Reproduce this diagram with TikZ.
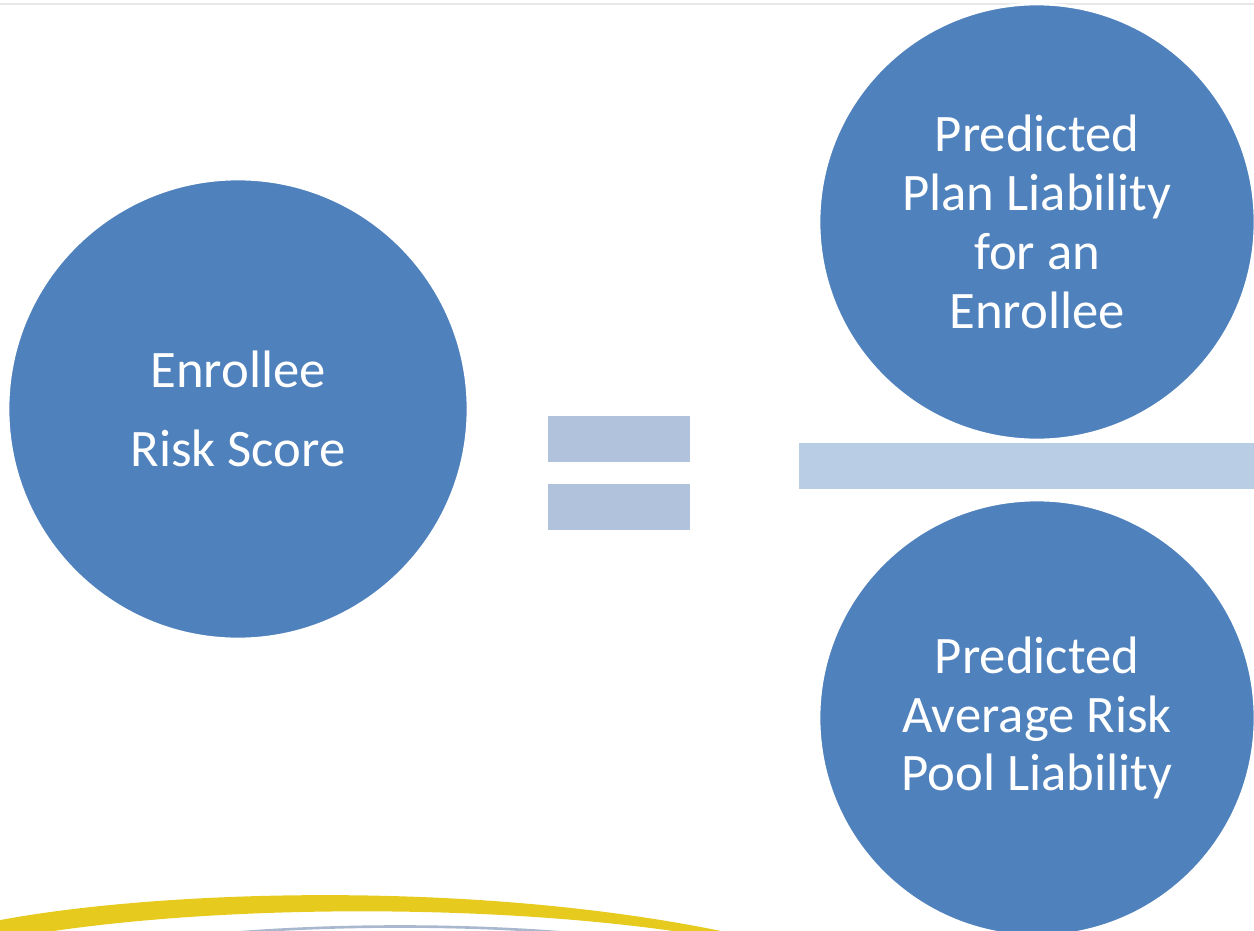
\documentclass[tikz,border=0pt]{standalone}
\usepackage{fontspec}
\setmainfont{Carlito}
\definecolor{bubblecol}{HTML}{4F81BD}
\definecolor{eqcol}{HTML}{B0C2DC}
\definecolor{fraccol}{HTML}{B9CDE5}
\definecolor{swooshcol}{HTML}{E6CB1E}
\definecolor{rulecol}{HTML}{E8E8E8}
\definecolor{arccol}{HTML}{A9B8CF}
\begin{document}
\begin{tikzpicture}[x=0.02cm,y=-0.02cm]
	\tikzstyle{every node}+=[inner sep=0pt]
	\tikzstyle{bubble}=[circle, fill=bubblecol, draw=white, line width=1.5pt, text=white, align=center]
	\tikzstyle{bar}=[rectangle, fill=eqcol, minimum width=2.84cm, minimum height=0.92cm]
	\useasboundingbox (0,0) rectangle (1254,930);
	\clip (0,0) rectangle (1254,930);
	\draw [rulecol, line width=1pt] (0,4) -- (1254,4);
	% left side
	\node [bubble, minimum size=9.2cm, font=\fontsize{30}{45}\selectfont] (score) at (238,409) {Enrollee\\Risk Score};
	% equals sign
	\node [bar] (eqtop) at (619,439) {};
	\node [bar] (eqbot) at (619,507) {};
	% right side
	\node [bubble, minimum size=8.72cm, font=\fontsize{30}{33.5}\selectfont] (plan) at (1037,222) {Predicted\\Plan Liability\\for an\\Enrollee};
	\node [rectangle, fill=fraccol, anchor=west, minimum width=9.3cm, minimum height=0.92cm] (fracbar) at (799,466) {};
	\node [bubble, minimum size=8.72cm, font=\fontsize{30}{33.5}\selectfont] (pool) at (1037,718) {Predicted\\Average Risk\\Pool Liability};
	% swoosh
	\fill [swooshcol] (-10,922) .. controls (150,890) and (480,878) .. (740,935) -- (700,935) .. controls (480,900) and (170,905) .. (-10,942) -- cycle;
	\draw [arccol, line width=1.5pt] (220,934) .. controls (330,924) and (470,924) .. (580,934);
\end{tikzpicture}
\end{document}
